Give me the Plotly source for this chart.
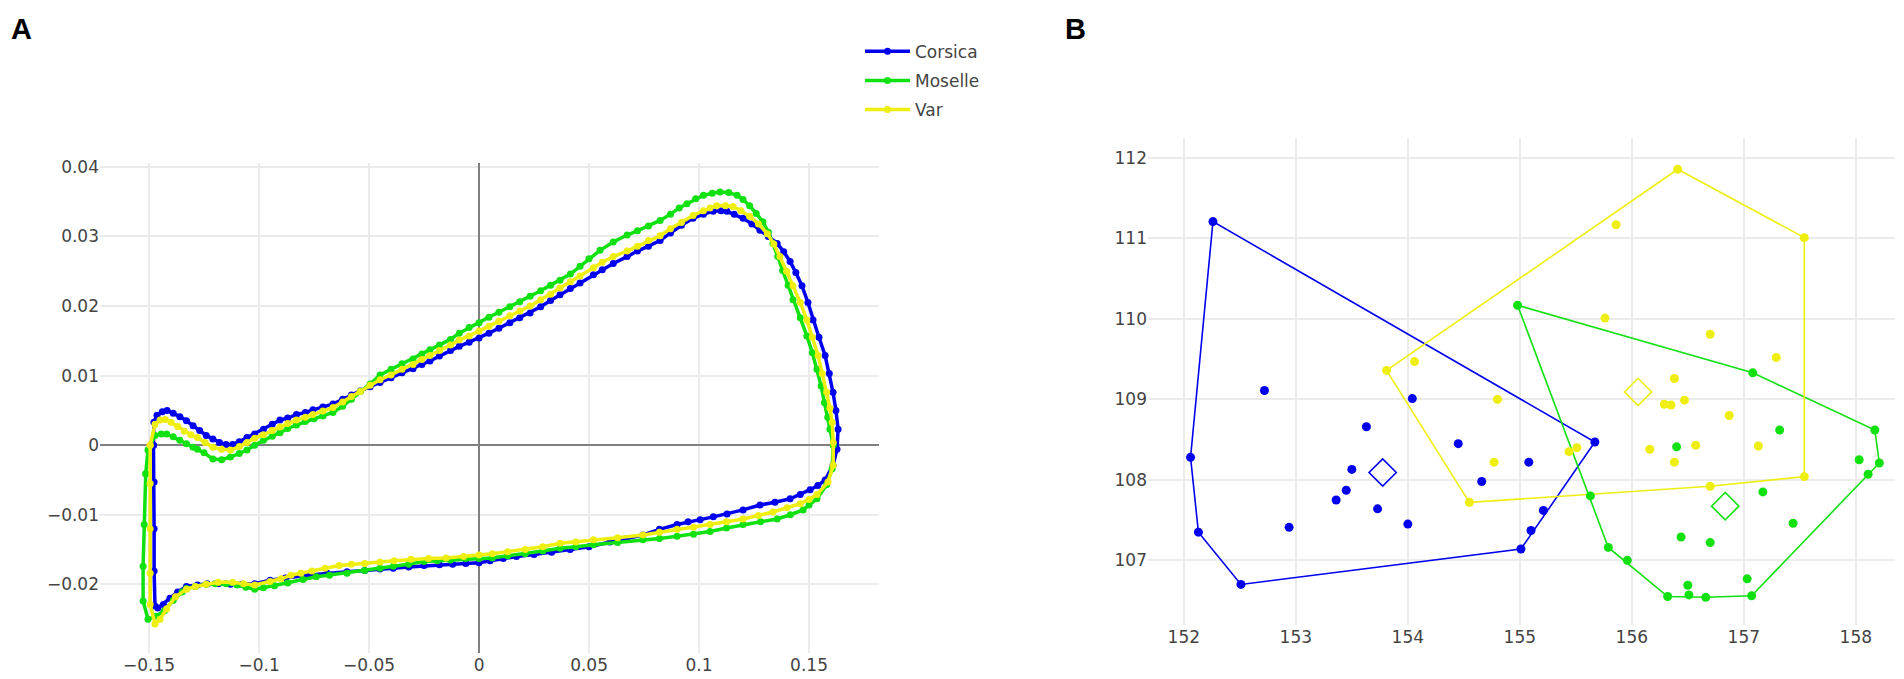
import plotly.graph_objects as go

# ---- Panel A: mean outline loops (x, y) per region ----
corsica_x = [-0.1480, -0.1478, -0.1464, -0.1440, -0.1418, -0.1390, -0.1360, -0.1330, -0.1300, -0.1270,
             -0.1240, -0.1210, -0.1180, -0.1150, -0.1120, -0.1090, -0.1055, -0.1020, -0.0980, -0.0940,
             -0.0905, -0.0870, -0.0830, -0.0790, -0.0755, -0.0710, -0.0664, -0.0620, -0.0580, -0.0540,
             -0.0495, -0.0450, -0.0400, -0.0350, -0.0300, -0.0260, -0.0223, -0.0180, -0.0130, -0.0090,
             -0.0045, 0.0000, 0.0045, 0.0090, 0.0140, 0.0185, 0.0232, 0.0280, 0.0325, 0.0368,
             0.0415, 0.0459, 0.0520, 0.0560, 0.0610, 0.0673, 0.0720, 0.0770, 0.0823, 0.0870,
             0.0920, 0.0973, 0.1020, 0.1064, 0.1100, 0.1127, 0.1160, 0.1200, 0.1240, 0.1277,
             0.1315, 0.1355, 0.1385, 0.1414, 0.1440, 0.1468, 0.1495, 0.1518, 0.1545, 0.1573,
             0.1592, 0.1609, 0.1622, 0.1632, 0.1627, 0.1609, 0.1573, 0.1540, 0.1505, 0.1460,
             0.1414, 0.1345, 0.1277, 0.1200, 0.1127, 0.1065, 0.1005, 0.0950, 0.0900, 0.0820,
             0.0745, 0.0670, 0.0595, 0.0500, 0.0414, 0.0330, 0.0250, 0.0170, 0.0110, 0.0050,
             0.0000, -0.0060, -0.0120, -0.0180, -0.0250, -0.0320, -0.0390, -0.0450, -0.0520, -0.0600,
             -0.0690, -0.0780, -0.0880, -0.0950, -0.1020, -0.1080, -0.1130, -0.1185, -0.1236, -0.1280,
             -0.1330, -0.1370, -0.1405, -0.1435, -0.1460, -0.1473, -0.1477, -0.1477, -0.1477, -0.1480]
corsica_y = [0.0000, 0.0033, 0.0043, 0.0048, 0.0050, 0.0046, 0.0041, 0.0035, 0.0028, 0.0021,
             0.0014, 0.0009, 0.0004, 0.0001, 0.0001, 0.0005, 0.0011, 0.0016, 0.0023, 0.0030,
             0.0036, 0.0039, 0.0044, 0.0047, 0.0051, 0.0055, 0.0059, 0.0066, 0.0072, 0.0078,
             0.0084, 0.0090, 0.0097, 0.0104, 0.0110, 0.0116, 0.0121, 0.0128, 0.0136, 0.0142,
             0.0148, 0.0154, 0.0161, 0.0168, 0.0176, 0.0183, 0.0190, 0.0199, 0.0208, 0.0216,
             0.0225, 0.0233, 0.0245, 0.0252, 0.0261, 0.0271, 0.0279, 0.0286, 0.0294, 0.0305,
             0.0316, 0.0326, 0.0332, 0.0336, 0.0337, 0.0336, 0.0332, 0.0326, 0.0318, 0.0309,
             0.0300, 0.0290, 0.0278, 0.0264, 0.0248, 0.0229, 0.0205, 0.0180, 0.0155, 0.0129,
             0.0103, 0.0076, 0.0050, 0.0023, -0.0006, -0.0029, -0.0050, -0.0058, -0.0064, -0.0071,
             -0.0077, -0.0082, -0.0086, -0.0093, -0.0099, -0.0103, -0.0107, -0.0110, -0.0114, -0.0121,
             -0.0129, -0.0134, -0.0139, -0.0146, -0.0150, -0.0154, -0.0157, -0.0160, -0.0163, -0.0166,
             -0.0169, -0.0170, -0.0171, -0.0172, -0.0173, -0.0175, -0.0177, -0.0178, -0.0180, -0.0182,
             -0.0184, -0.0187, -0.0191, -0.0194, -0.0199, -0.0200, -0.0200, -0.0199, -0.0199, -0.0201,
             -0.0203, -0.0211, -0.0220, -0.0229, -0.0234, -0.0231, -0.0181, -0.0120, -0.0053, 0.0000]

moselle_x = [-0.1515, -0.1505, -0.1473, -0.1445, -0.1420, -0.1390, -0.1360, -0.1330, -0.1300, -0.1280,
             -0.1250, -0.1210, -0.1170, -0.1130, -0.1090, -0.1055, -0.1020, -0.0980, -0.0940, -0.0905,
             -0.0870, -0.0830, -0.0790, -0.0750, -0.0710, -0.0664, -0.0620, -0.0580, -0.0540, -0.0495,
             -0.0450, -0.0400, -0.0350, -0.0300, -0.0260, -0.0223, -0.0180, -0.0130, -0.0090, -0.0045,
             0.0000, 0.0045, 0.0090, 0.0140, 0.0185, 0.0232, 0.0280, 0.0325, 0.0368, 0.0415,
             0.0459, 0.0500, 0.0550, 0.0610, 0.0673, 0.0720, 0.0770, 0.0823, 0.0870, 0.0910,
             0.0945, 0.0985, 0.1020, 0.1060, 0.1095, 0.1135, 0.1173, 0.1200, 0.1230, 0.1260,
             0.1290, 0.1315, 0.1336, 0.1358, 0.1380, 0.1405, 0.1427, 0.1460, 0.1490, 0.1515,
             0.1536, 0.1555, 0.1570, 0.1585, 0.1595, 0.1610, 0.1605, 0.1580, 0.1536, 0.1500,
             0.1473, 0.1415, 0.1355, 0.1280, 0.1200, 0.1125, 0.1050, 0.0975, 0.0900, 0.0820,
             0.0745, 0.0630, 0.0520, 0.0440, 0.0368, 0.0290, 0.0210, 0.0130, 0.0060, 0.0000,
             -0.0060, -0.0130, -0.0190, -0.0250, -0.0320, -0.0390, -0.0450, -0.0520, -0.0600, -0.0680,
             -0.0740, -0.0800, -0.0870, -0.0930, -0.0980, -0.1020, -0.1060, -0.1100, -0.1150, -0.1200,
             -0.1240, -0.1290, -0.1330, -0.1350, -0.1390, -0.1430, -0.1470, -0.1505, -0.1527, -0.1527,
             -0.1522, -0.1515]
moselle_y = [-0.0041, -0.0007, 0.0014, 0.0016, 0.0016, 0.0012, 0.0007, 0.0002, -0.0003, -0.0006,
             -0.0011, -0.0020, -0.0021, -0.0017, -0.0012, -0.0007, 0.0000, 0.0007, 0.0013, 0.0018,
             0.0024, 0.0029, 0.0034, 0.0038, 0.0042, 0.0047, 0.0056, 0.0066, 0.0077, 0.0088,
             0.0101, 0.0109, 0.0117, 0.0124, 0.0131, 0.0137, 0.0144, 0.0152, 0.0161, 0.0169,
             0.0176, 0.0184, 0.0191, 0.0199, 0.0206, 0.0214, 0.0222, 0.0230, 0.0237, 0.0246,
             0.0257, 0.0268, 0.0280, 0.0292, 0.0302, 0.0308, 0.0315, 0.0323, 0.0332, 0.0341,
             0.0347, 0.0354, 0.0359, 0.0362, 0.0364, 0.0363, 0.0359, 0.0353, 0.0344, 0.0333,
             0.0321, 0.0306, 0.0290, 0.0271, 0.0251, 0.0230, 0.0209, 0.0183, 0.0157, 0.0133,
             0.0109, 0.0085, 0.0061, 0.0040, 0.0023, 0.0000, -0.0034, -0.0057, -0.0077, -0.0086,
             -0.0093, -0.0100, -0.0106, -0.0110, -0.0114, -0.0119, -0.0124, -0.0128, -0.0131, -0.0134,
             -0.0136, -0.0140, -0.0143, -0.0146, -0.0148, -0.0152, -0.0156, -0.0159, -0.0162, -0.0163,
             -0.0163, -0.0165, -0.0166, -0.0167, -0.0171, -0.0174, -0.0177, -0.0180, -0.0184, -0.0187,
             -0.0189, -0.0193, -0.0198, -0.0202, -0.0205, -0.0207, -0.0204, -0.0201, -0.0199, -0.0199,
             -0.0200, -0.0203, -0.0206, -0.0211, -0.0223, -0.0238, -0.0246, -0.0250, -0.0224, -0.0174,
             -0.0114, -0.0041]

var_x = [-0.1495, -0.1473, -0.1450, -0.1427, -0.1400, -0.1370, -0.1340, -0.1310, -0.1280, -0.1245,
         -0.1210, -0.1170, -0.1130, -0.1090, -0.1055, -0.1020, -0.0980, -0.0940, -0.0905, -0.0870,
         -0.0830, -0.0790, -0.0755, -0.0710, -0.0664, -0.0620, -0.0580, -0.0540, -0.0495, -0.0450,
         -0.0400, -0.0350, -0.0300, -0.0260, -0.0223, -0.0180, -0.0130, -0.0090, -0.0045, 0.0000,
         0.0045, 0.0090, 0.0140, 0.0185, 0.0232, 0.0280, 0.0325, 0.0368, 0.0415, 0.0459,
         0.0520, 0.0560, 0.0610, 0.0673, 0.0720, 0.0770, 0.0823, 0.0870, 0.0920, 0.0973,
         0.1020, 0.1050, 0.1080, 0.1120, 0.1155, 0.1190, 0.1230, 0.1270, 0.1310, 0.1340,
         0.1368, 0.1398, 0.1427, 0.1460, 0.1490, 0.1515, 0.1541, 0.1560, 0.1580, 0.1595,
         0.1605, 0.1610, 0.1610, 0.1586, 0.1536, 0.1500, 0.1460, 0.1400, 0.1336, 0.1270,
         0.1200, 0.1125, 0.1050, 0.0975, 0.0900, 0.0820, 0.0745, 0.0630, 0.0520, 0.0440,
         0.0368, 0.0290, 0.0210, 0.0130, 0.0060, 0.0000, -0.0070, -0.0150, -0.0230, -0.0310,
         -0.0386, -0.0450, -0.0520, -0.0580, -0.0636, -0.0700, -0.0760, -0.0810, -0.0855, -0.0900,
         -0.0950, -0.1020, -0.1070, -0.1120, -0.1186, -0.1240, -0.1290, -0.1330, -0.1380, -0.1420,
         -0.1450, -0.1473, -0.1495, -0.1495, -0.1495, -0.1495, -0.1495]
var_y = [0.0000, 0.0030, 0.0036, 0.0037, 0.0033, 0.0027, 0.0020, 0.0015, 0.0011, 0.0004,
         -0.0003, -0.0006, -0.0007, -0.0002, 0.0004, 0.0010, 0.0015, 0.0021, 0.0026, 0.0031,
         0.0036, 0.0040, 0.0044, 0.0049, 0.0054, 0.0062, 0.0070, 0.0077, 0.0086, 0.0094,
         0.0101, 0.0109, 0.0116, 0.0123, 0.0129, 0.0136, 0.0144, 0.0151, 0.0157, 0.0164,
         0.0171, 0.0178, 0.0186, 0.0193, 0.0200, 0.0209, 0.0217, 0.0226, 0.0235, 0.0243,
         0.0255, 0.0263, 0.0271, 0.0279, 0.0286, 0.0294, 0.0301, 0.0311, 0.0320, 0.0330,
         0.0337, 0.0341, 0.0344, 0.0344, 0.0343, 0.0337, 0.0329, 0.0318, 0.0304, 0.0289,
         0.0271, 0.0250, 0.0229, 0.0205, 0.0180, 0.0155, 0.0129, 0.0103, 0.0076, 0.0053,
         0.0033, 0.0004, -0.0029, -0.0053, -0.0071, -0.0078, -0.0084, -0.0090, -0.0096, -0.0101,
         -0.0106, -0.0110, -0.0114, -0.0118, -0.0121, -0.0125, -0.0129, -0.0133, -0.0136, -0.0139,
         -0.0141, -0.0146, -0.0150, -0.0153, -0.0156, -0.0158, -0.0160, -0.0162, -0.0163, -0.0164,
         -0.0166, -0.0168, -0.0170, -0.0171, -0.0173, -0.0177, -0.0181, -0.0184, -0.0187, -0.0192,
         -0.0196, -0.0201, -0.0199, -0.0197, -0.0197, -0.0200, -0.0203, -0.0207, -0.0218, -0.0235,
         -0.0250, -0.0257, -0.0229, -0.0184, -0.0120, -0.0055, 0.0000]

# ---- Panel B: individual scores per region ----
corsica_pts_x = [152.26, 152.06, 152.13, 152.51, 152.72, 152.94, 153.36, 153.45, 153.50, 153.63,
                 153.73, 154.00, 154.04, 154.45, 154.66, 155.08, 155.01, 155.10, 155.21, 155.67]
corsica_pts_y = [111.21, 108.28, 107.35, 106.70, 109.11, 107.41, 107.75, 107.87, 108.13, 108.66,
                 107.64, 107.45, 109.01, 108.45, 107.98, 108.22, 107.14, 107.37, 107.62, 108.47]

moselle_pts_x = [154.98, 157.08, 158.17, 157.32, 156.40, 158.03, 158.21, 158.11, 157.17, 155.63,
                 157.44, 156.44, 156.70, 155.79, 155.96, 157.03, 156.32, 156.51, 156.50, 156.66, 157.07]
moselle_pts_y = [110.17, 109.33, 108.62, 108.62, 108.41, 108.25, 108.21, 108.07, 107.85, 107.80,
                 107.46, 107.29, 107.22, 107.16, 107.00, 106.77, 106.55, 106.57, 106.69, 106.54, 106.56]

var_pts_x = [153.81, 154.06, 156.41, 155.86, 157.54, 155.76, 156.70, 157.29, 156.38, 154.80,
             156.29, 156.35, 156.47, 156.87, 155.44, 155.51, 156.16, 156.57, 157.13, 154.77,
             156.38, 157.54, 156.70, 154.55]
var_pts_y = [109.36, 109.47, 111.86, 111.17, 111.01, 110.01, 109.81, 109.52, 109.26, 109.00,
             108.94, 108.93, 108.99, 108.80, 108.35, 108.40, 108.38, 108.43, 108.42, 108.22,
             108.22, 108.04, 107.92, 107.72]

regions = ['Corsica', 'Moselle', 'Var']
colors = {'Corsica': '#0000ee', 'Moselle': '#11e011', 'Var': '#eeee11'}


def convex_hull(xs, ys):
    pts = sorted(zip(xs, ys))

    def cross(o, a, b):
        return (a[0] - o[0]) * (b[1] - o[1]) - (a[1] - o[1]) * (b[0] - o[0])

    lower = []
    for p in pts:
        while len(lower) >= 2 and cross(lower[-2], lower[-1], p) <= 0:
            lower.pop()
        lower.append(p)
    upper = []
    for p in reversed(pts):
        while len(upper) >= 2 and cross(upper[-2], upper[-1], p) <= 0:
            upper.pop()
        upper.append(p)
    h = lower[:-1] + upper[:-1]
    h.append(h[0])
    return [p[0] for p in h], [p[1] for p in h]


# the page body has an 8px margin, so the figure is drawn 8px smaller and
# every pixel position below is given in window pixels
OFF = 8
W, H = 1904 - OFF, 679 - OFF


def fx(px):
    return (px - OFF) / W


def fy(py):
    return 1 - (py - OFF) / H


fig = go.Figure()

loops = {'Corsica': (corsica_x, corsica_y),
         'Moselle': (moselle_x, moselle_y),
         'Var': (var_x, var_y)}
points = {'Corsica': (corsica_pts_x, corsica_pts_y),
          'Moselle': (moselle_pts_x, moselle_pts_y),
          'Var': (var_pts_x, var_pts_y)}

for name in regions:
    lx, ly = loops[name]
    fig.add_trace(go.Scatter(x=lx, y=ly, name=name, legendgroup=name, mode='lines+markers',
                             line=dict(color=colors[name], width=3.5),
                             marker=dict(color=colors[name], size=7),
                             xaxis='x', yaxis='y'))

for name in regions:
    px_, py_ = points[name]
    hx, hy = convex_hull(px_, py_)
    fig.add_trace(go.Scatter(x=hx, y=hy, mode='lines', showlegend=False,
                             line=dict(color=colors[name], width=1.6),
                             xaxis='x2', yaxis='y2'))

for name in regions:
    px_, py_ = points[name]
    fig.add_trace(go.Scatter(x=px_, y=py_, mode='markers', showlegend=False,
                             marker=dict(color=colors[name], size=9),
                             xaxis='x2', yaxis='y2'))
    fig.add_trace(go.Scatter(x=[sum(px_) / len(px_)], y=[sum(py_) / len(py_)],
                             mode='markers', showlegend=False,
                             marker=dict(symbol='diamond-open', size=21, color=colors[name],
                                         line=dict(width=1.6, color=colors[name])),
                             xaxis='x2', yaxis='y2'))

grid = dict(showgrid=True, gridcolor='#ebebeb', gridwidth=1.5, showline=False, ticks='',
            tickfont=dict(size=17, color='#444'))

fig.update_layout(
    width=W, height=H,
    margin=dict(l=0, r=0, t=0, b=0),
    paper_bgcolor='white', plot_bgcolor='white',
    font=dict(family='DejaVu Sans', size=17, color='#444'),
    xaxis=dict(domain=[fx(100), fx(879)], range=[-0.1723, 0.1818], dtick=0.05,
               zeroline=True, zerolinecolor='#808080', zerolinewidth=2, anchor='y', **grid),
    yaxis=dict(domain=[fy(653), fy(158)], range=[-0.0299, 0.0406], dtick=0.01,
               zeroline=True, zerolinecolor='#808080', zerolinewidth=2, anchor='x', **grid),
    xaxis2=dict(domain=[fx(1148), fx(1895)], range=[151.68, 158.35], dtick=1,
                zeroline=False, anchor='y2', **grid),
    yaxis2=dict(domain=[fy(625), fy(133)], range=[106.19, 112.25], dtick=1,
                zeroline=False, anchor='x2', **grid),
    legend=dict(x=fx(860), y=fy(28), xanchor='left', yanchor='top', tracegroupgap=4,
                font=dict(size=17, color='#444'), itemwidth=45, bgcolor='rgba(0,0,0,0)'),
    annotations=[
        dict(text='<b>A</b>', x=fx(21), y=fy(23), xref='paper', yref='paper',
             xanchor='center', yanchor='middle', showarrow=False,
             font=dict(family='Liberation Sans', size=29, color='black')),
        dict(text='<b>B</b>', x=fx(1075), y=fy(23), xref='paper', yref='paper',
             xanchor='center', yanchor='middle', showarrow=False,
             font=dict(family='Liberation Sans', size=29, color='black')),
    ],
)

fig.write_html("out.html")
